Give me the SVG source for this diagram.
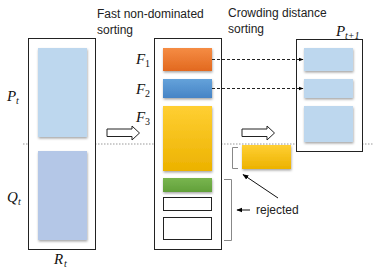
<svg xmlns="http://www.w3.org/2000/svg" width="374" height="275" viewBox="0 0 374 275">
<defs>
<linearGradient id="gOr" x1="0" y1="0" x2="0" y2="1"><stop offset="0" stop-color="#f58c44"/><stop offset="1" stop-color="#e2691f"/></linearGradient>
<linearGradient id="gBl" x1="0" y1="0" x2="0" y2="1"><stop offset="0" stop-color="#64a2da"/><stop offset="1" stop-color="#4684c6"/></linearGradient>
<linearGradient id="gYe" x1="0" y1="0" x2="0" y2="1"><stop offset="0" stop-color="#ffcf33"/><stop offset="1" stop-color="#ecb200"/></linearGradient>
<linearGradient id="gGr" x1="0" y1="0" x2="0" y2="1"><stop offset="0" stop-color="#79b54f"/><stop offset="1" stop-color="#62a03a"/></linearGradient>
<filter id="sh" x="-10%" y="-10%" width="130%" height="130%"><feDropShadow dx="0.5" dy="1.5" stdDeviation="0.8" flood-color="#000" flood-opacity="0.35"/></filter>
<marker id="ah" viewBox="0 0 10 10" refX="9" refY="5" markerWidth="6" markerHeight="6" orient="auto"><path d="M0,1 L10,5 L0,9 z" fill="#000"/></marker>
<marker id="ah2" viewBox="0 0 10 10" refX="9" refY="5" markerWidth="5" markerHeight="5" orient="auto"><path d="M0,1 L10,5 L0,9 z" fill="#000"/></marker>
</defs>
<style>
.box{fill:#fff;stroke:#222;stroke-width:1}
.lbl{font-family:"Liberation Sans",Arial,sans-serif;font-size:12px;fill:#222}
.math{font-family:"Liberation Serif","DejaVu Serif",serif;font-style:italic;font-size:15px;fill:#111}
.sub{font-family:"Liberation Serif","DejaVu Serif",serif;font-size:10px;fill:#111}
.subi{font-family:"Liberation Serif","DejaVu Serif",serif;font-style:italic;font-size:10px;fill:#111}
.hollow{fill:#fff;stroke:#222;stroke-width:1}
.brk{fill:none;stroke:#888;stroke-width:1}
.dash{stroke:#222;stroke-width:1;stroke-dasharray:3,2;fill:none}
</style>

<line x1="23" y1="144" x2="374" y2="144" stroke="#999" stroke-width="1" stroke-dasharray="1.5,1.5"/>

<g id="Rt">
<rect class="box" x="28.5" y="38.5" width="67" height="211"/>
<rect x="38" y="48" width="49" height="89" fill="#bdd7ee" filter="url(#sh)"/>
<rect x="38" y="151" width="49" height="89" fill="#b4c7e7" filter="url(#sh)"/>
</g>

<g id="sorted">
<rect class="box" x="154.5" y="38.5" width="67" height="211"/>
<rect x="163" y="48" width="49" height="23" fill="url(#gOr)" filter="url(#sh)"/>
<rect x="163" y="79" width="49" height="19" fill="url(#gBl)" filter="url(#sh)"/>
<rect x="163" y="106" width="49" height="65" fill="url(#gYe)" filter="url(#sh)"/>
<rect x="163" y="178" width="49" height="14" fill="url(#gGr)" filter="url(#sh)"/>
<rect x="163.5" y="197.5" width="48" height="13" fill="#fff" stroke="#222"/>
<rect x="163.5" y="217.5" width="48" height="22" fill="#fff" stroke="#222"/>
</g>

<g id="Pt1">
<rect class="box" x="296.5" y="39.5" width="66" height="112"/>
<rect x="304" y="48" width="49" height="23" fill="#bdd7ee" filter="url(#sh)"/>
<rect x="304" y="79" width="49" height="19" fill="#bdd7ee" filter="url(#sh)"/>
<rect x="304" y="106" width="49" height="36" fill="#bdd7ee" filter="url(#sh)"/>
</g>

<g id="f3part">
<rect x="242" y="145" width="49" height="24" fill="url(#gYe)" filter="url(#sh)"/>
</g>

<g id="connectors">
<path class="hollow" d="M107,129 H132 V126 L139.5,133 L132,140 V136.5 H107 Z"/>
<path class="hollow" d="M242,129 H267 V126 L274.5,133 L267,140 V136.5 H242 Z"/>
<line class="dash" x1="212" y1="59.5" x2="303" y2="59.5" marker-end="url(#ah2)"/>
<line class="dash" x1="212" y1="88.5" x2="303" y2="88.5" marker-end="url(#ah2)"/>
<path class="brk" d="M238,147.5 H232.5 V168.5 H238"/>
<path class="brk" d="M224,179.5 H231.5 V240.5 H224"/>
<line x1="278" y1="198" x2="243" y2="174.5" stroke="#111" stroke-width="1" marker-end="url(#ah)"/>
<line x1="250" y1="210" x2="237" y2="210" stroke="#111" stroke-width="1" marker-end="url(#ah)"/>
</g>

<g id="labels">
<text class="lbl" x="97" y="18">Fast  non-dominated</text>
<text class="lbl" x="97" y="34">sorting</text>
<text class="lbl" x="228" y="17">Crowding distance</text>
<text class="lbl" x="228" y="33">sorting</text>
<text class="lbl" x="256" y="214">rejected</text>
<text class="math" x="7" y="101">P</text><text class="subi" x="16" y="104">t</text>
<text class="math" x="7" y="202">Q</text><text class="subi" x="18" y="205">t</text>
<text class="math" x="54" y="264">R</text><text class="subi" x="64" y="267">t</text>
<text class="math" x="136" y="64">F</text><text class="sub" x="145" y="67">1</text>
<text class="math" x="136" y="94">F</text><text class="sub" x="145" y="97">2</text>
<text class="math" x="136" y="122">F</text><text class="sub" x="145" y="125">3</text>
<text class="math" x="336" y="36">P</text><text class="subi" x="345" y="39">t+1</text>
</g>
</svg>
